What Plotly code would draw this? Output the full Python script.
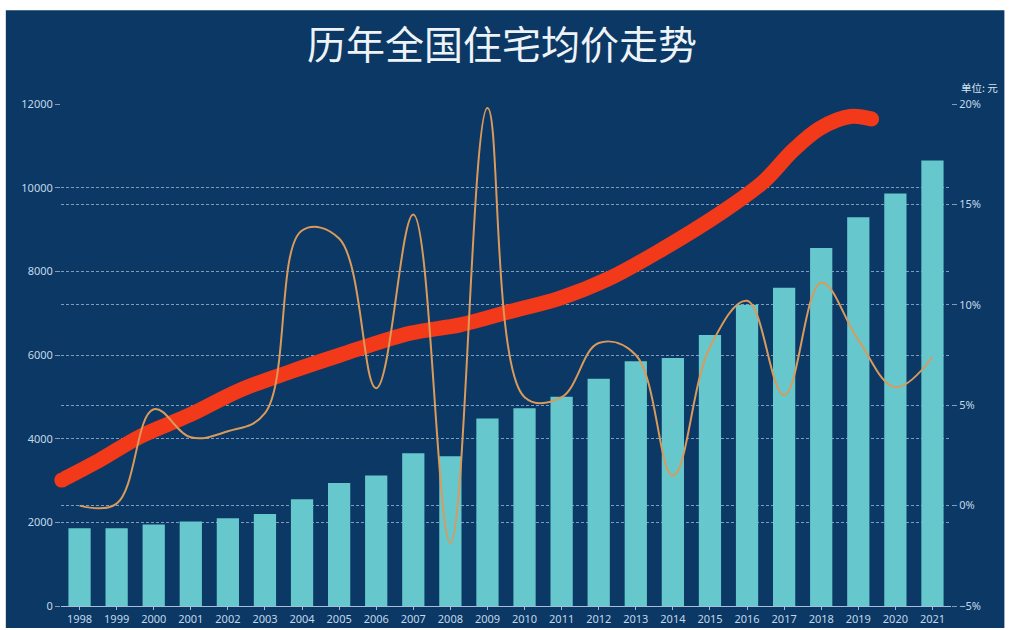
import plotly.graph_objects as go

years = list(range(1998, 2022))
year_labels = [str(y) for y in years]

# average residential price (yuan / m2)
avg_price = [1860, 1860, 1950, 2020, 2100, 2200, 2550, 2940, 3120, 3650, 3580, 4480,
             4730, 5000, 5430, 5850, 5930, 6480, 7200, 7610, 8560, 9290, 9860, 10650]

# year-on-year growth (%), right axis
growth = [0.0, 0.1, 4.8, 3.4, 3.7, 4.6, 13.7, 13.3, 5.85, 14.5, -1.85, 19.8,
          5.4, 5.4, 8.1, 7.5, 1.5, 7.9, 10.2, 5.5, 11.1, 8.25, 5.9, 7.4]

# hand drawn red trend stroke (x in years, y in yuan)
trend_x = [1997.52, 1998.55, 1999.63, 2000.98, 2002.33, 2003.68, 2005.03, 2006.91,
           2008.26, 2009.61, 2010.96, 2012.31, 2013.66, 2015.28, 2016.44, 2017.25,
           2017.97, 2018.78, 2019.36]
trend_y = [3010, 3490, 4050, 4570, 5160, 5600, 6000, 6520,
           6720, 7040, 7360, 7840, 8500, 9390, 10140, 10900,
           11420, 11700, 11640]

bg = "#0b3864"
tick_col = "#c2d8ea"
grid_col = "rgba(205,225,245,0.6)"

fig = go.Figure()

fig.add_trace(go.Bar(x=years, y=avg_price, marker_color="#66c8cd",
                     marker_line_width=0, name="均价"))

fig.add_trace(go.Scatter(x=years, y=growth, yaxis="y2", mode="lines",
                         line=dict(color="#d99a5b", width=2, shape="spline", smoothing=1.1),
                         name="增长率"))

ends = [15] + [0] * (len(trend_x) - 2) + [15]
fig.add_trace(go.Scatter(x=trend_x, y=trend_y, mode="lines+markers", cliponaxis=False,
                         line=dict(color="#f2391a", width=15, shape="spline", smoothing=1),
                         marker=dict(size=ends, color="#f2391a", opacity=1, line_width=0),
                         name="趋势"))

fig.update_layout(
    width=1009, height=630,
    margin=dict(l=61, r=58, t=104, b=24),
    paper_bgcolor="white",
    plot_bgcolor="rgba(0,0,0,0)",
    showlegend=False,
    bargap=0.4,
    title=dict(text="历年全国住宅均价走势", x=502 / 1009, xanchor="center", y=1 - 45 / 630,
               yanchor="middle",
               font=dict(family="Noto Sans CJK SC", size=39, color="#eef3f8")),
    font=dict(family="Noto Sans", size=11, color=tick_col),
    xaxis=dict(range=[1997.5, 2021.5], tickvals=years, ticktext=year_labels,
               automargin=False, showgrid=False, zeroline=False, showline=True,
               linecolor="rgba(205,225,245,0.8)", linewidth=1,
               ticks="outside", ticklen=3, tickcolor="rgba(205,225,245,0.8)",
               tickfont=dict(size=11, color=tick_col)),
    yaxis=dict(range=[0, 12000], dtick=2000, tickformat="d", automargin=False,
               showgrid=True, gridcolor=grid_col, griddash="3px,2px", gridwidth=1,
               zeroline=False, ticks="outside", ticklen=5, tickcolor=grid_col,
               tickfont=dict(size=11, color=tick_col)),
    yaxis2=dict(range=[-5, 20], dtick=5, overlaying="y", side="right",
                ticksuffix="%", automargin=False, showgrid=True, gridcolor=grid_col,
                griddash="3px,2px", gridwidth=1, zeroline=False,
                ticks="outside", ticklen=5, tickcolor=grid_col,
                tickfont=dict(size=11, color=tick_col)),
    shapes=[dict(type="rect", xref="paper", yref="paper",
                 x0=-0.062, x1=1.06, y0=-0.044, y1=1.187,
                 fillcolor=bg, line_width=0, layer="below")],
    annotations=[dict(text="单位: 元", xref="paper", yref="paper", x=1.009, y=1.033,
                      xanchor="left", yanchor="middle", showarrow=False,
                      font=dict(family="Noto Sans CJK SC", size=10.5, color="#d6e4f0"))],
)

fig.write_html("out.html", config={"displayModeBar": False},
               post_script="document.body.style.margin='0px';")
